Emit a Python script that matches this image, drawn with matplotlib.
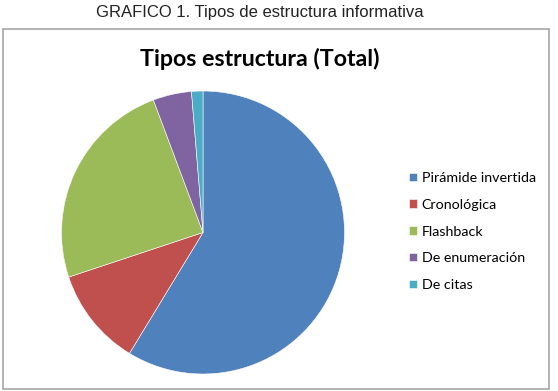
import matplotlib
matplotlib.use('Agg')
import matplotlib.pyplot as plt
from matplotlib.patches import Rectangle

# share of each structure type (%)
labels = ['Pirámide invertida', 'Cronológica', 'Flashback', 'De enumeración', 'De citas']
values = [58.7, 11.2, 24.4, 4.4, 1.3]
colors = ['#4F81BD', '#C0504D', '#9BBB59', '#8064A2', '#4BACC6']

W, H = 558, 391
fig = plt.figure(figsize=(W / 100, H / 100), dpi=100)

# chart frame
fig.patches.append(Rectangle((3 / W, 1 - 389 / H), 546 / W, 360.5 / H,
                             transform=fig.transFigure, fill=False,
                             edgecolor='#a6a6a6', linewidth=1.2))

fig.text(259.5 / W, 1 - 12 / H, 'GRAFICO 1. Tipos de estructura informativa',
         ha='center', va='center', fontsize=12, family='Liberation Sans', color='#222222')
fig.text(260 / W, 1 - 59 / H, 'Tipos estructura (Total)',
         ha='center', va='center', fontsize=16.7, fontweight='bold', family='Lato')

cx, cy, r = 203, 232.5, 141.5
ax = fig.add_axes([(cx - r) / W, 1 - (cy + r) / H, 2 * r / W, 2 * r / H])
wedges, _ = ax.pie(values, colors=colors, startangle=90, counterclock=False,
                   wedgeprops=dict(linewidth=0.4, edgecolor='white'))
ax.set_xlim(-1, 1)
ax.set_ylim(-1, 1)
ax.set_aspect('equal')
ax.axis('off')

fig.legend(wedges, labels, loc='center left', bbox_to_anchor=(409 / W, 1 - 231.5 / H),
           frameon=False, prop=dict(family='Lato', size=10.3),
           handlelength=0.55, handleheight=0.55, handletextpad=0.35,
           labelspacing=1.03, borderpad=0, borderaxespad=0)

fig.savefig('out.png', dpi=100)
